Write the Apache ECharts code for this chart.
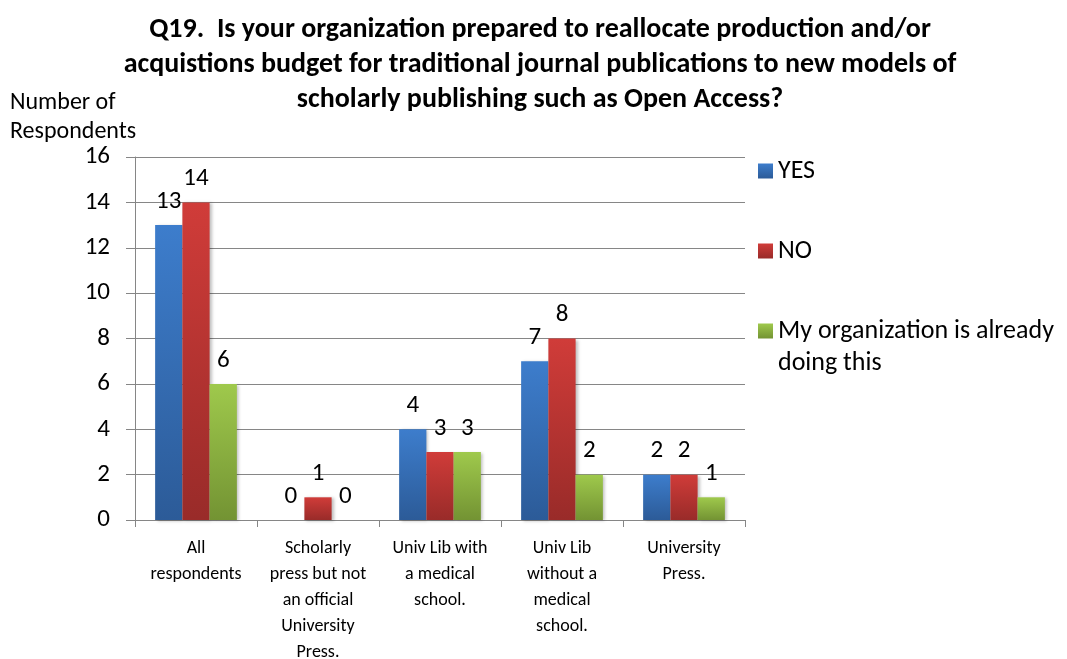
<!DOCTYPE html>
<html>
<head>
<meta charset="utf-8">
<script src="https://cdn.jsdelivr.net/npm/echarts@6/dist/echarts.min.js"></script>
<style>
  html, body { margin: 0; padding: 0; background: #fff; }
  #chart { width: 1067px; height: 659px; }
</style>
</head>
<body>
<div id="chart"></div>
<script>
var categories = [
  "All\nrespondents",
  "Scholarly\npress but not\nan official\nUniversity\nPress.",
  "Univ Lib with\na medical\nschool.",
  "Univ Lib\nwithout a\nmedical\nschool.",
  "University\nPress."
];
var yesValues = [13, 0, 4, 7, 2];
var noValues = [14, 1, 3, 8, 2];
var doingValues = [6, 0, 3, 2, 1];
var seriesNames = ["YES", "NO", "My organization is already\ndoing this"];

var font = "Carlito, 'Liberation Sans Narrow', 'Open Sans', sans-serif";

function grad(top, bottom) {
  return new echarts.graphic.LinearGradient(0, 0, 0, 1, [
    { offset: 0, color: top },
    { offset: 1, color: bottom }
  ]);
}

function barSeries(name, data, top, bottom) {
  return {
    name: name,
    type: "bar",
    data: data,
    barGap: "0%",
    barCategoryGap: "33%",
    itemStyle: {
      color: grad(top, bottom),
      shadowColor: "rgba(0,0,0,0.25)",
      shadowBlur: 3,
      shadowOffsetX: 2,
      shadowOffsetY: 1
    },
    label: {
      show: true,
      position: "top",
      distance: 11,
      color: "#000",
      fontSize: 25,
      fontFamily: font
    }
  };
}

var myChart = echarts.init(document.getElementById("chart"));

var option = {
  animation: false,
  title: {
    text: "Q19.  Is your organization prepared to reallocate production and/or\nacquistions budget for traditional journal publications to new models of\nscholarly publishing such as Open Access?",
    left: 535,
    textAlign: "center",
    top: 7,
    textStyle: {
      fontFamily: font,
      fontWeight: "bold",
      fontSize: 28,
      lineHeight: 35,
      color: "#000"
    }
  },
  graphic: [{
    type: "text",
    left: 10,
    top: 88,
    style: {
      text: "Number of\nRespondents",
      font: "24px " + font,
      lineHeight: 29,
      fill: "#000"
    }
  }],
  legend: [{
    orient: "vertical",
    left: 753,
    top: 151,
    itemWidth: 15,
    itemHeight: 15,
    itemGap: 50,
    icon: "rect",
    data: [seriesNames[0], seriesNames[1]],
    textStyle: {
      fontFamily: font,
      fontSize: 26,
      lineHeight: 30,
      color: "#000"
    }
  }, {
    orient: "vertical",
    left: 753,
    top: 278,
    itemWidth: 15,
    itemHeight: 15,
    icon: "rect",
    data: [seriesNames[2]],
    // leading blank line keeps the icon level with the first text line
    formatter: function (name) { return "\n" + name; },
    textStyle: {
      fontFamily: font,
      fontSize: 26,
      lineHeight: 32,
      color: "#000"
    }
  }],
  grid: {
    left: 135,
    right: 322,
    top: 157,
    bottom: 139,
    outerBoundsMode: "none"
  },
  xAxis: {
    type: "category",
    data: categories,
    axisLine: { lineStyle: { color: "#868686", width: 1 } },
    axisTick: { show: true, length: 7, lineStyle: { color: "#868686" } },
    axisLabel: {
      interval: 0,
      margin: 15,
      color: "#000",
      fontFamily: font,
      fontSize: 18,
      lineHeight: 26
    }
  },
  yAxis: {
    type: "value",
    min: 0,
    max: 16,
    interval: 2,
    axisLine: { show: true, lineStyle: { color: "#868686" } },
    axisTick: { show: true, length: 9, lineStyle: { color: "#868686" } },
    splitLine: { lineStyle: { color: "#868686", width: 1 } },
    axisLabel: {
      margin: 25,
      color: "#000",
      fontFamily: font,
      fontSize: 25
    }
  },
  series: [
    barSeries(seriesNames[0], yesValues, "#3d7dcc", "#2c5b98"),
    barSeries(seriesNames[1], noValues, "#d03c39", "#992b29"),
    barSeries(seriesNames[2], doingValues, "#9fc94c", "#739333")
  ]
};

myChart.setOption(option);
</script>
</body>
</html>
